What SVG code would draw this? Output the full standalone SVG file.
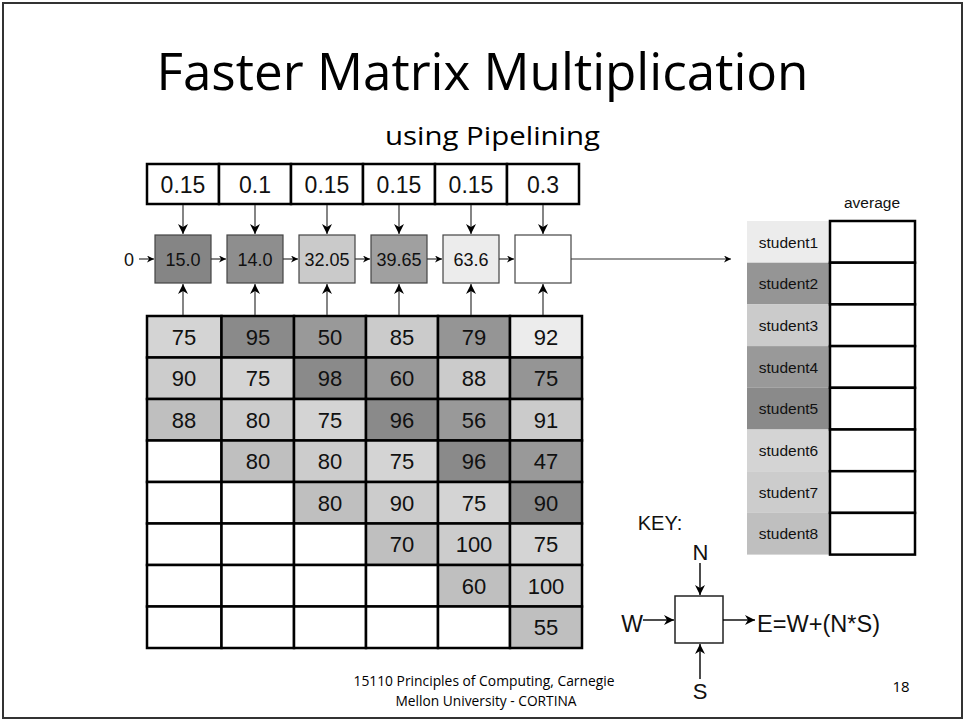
<svg xmlns="http://www.w3.org/2000/svg" width="965" height="721" viewBox="0 0 965 721">
<style>
.t{font-family:"Liberation Sans",Arial,sans-serif;fill:#111;text-anchor:middle}
.c{font-family:"Open Sans","Liberation Sans",sans-serif;fill:#000;text-anchor:middle}
.wb{fill:#fff;stroke:#000;stroke-width:2.5}
.mc{stroke:#000;stroke-width:2.5}
.pb{stroke:#444;stroke-width:1.2}
.ln{stroke:#333;stroke-width:1.2;fill:none}
.kl{stroke:#000;stroke-width:1.4;fill:none}
.s1{fill:#ececec}.s2{fill:#959595}.s3{fill:#cbcbcb}.s4{fill:#999999}
.s5{fill:#8a8a8a}.s6{fill:#d4d4d4}.s7{fill:#cccccc}.s8{fill:#bfbfbf}.s0{fill:#fff}
</style>
<defs>
<marker id="arr" viewBox="0 0 10 10" refX="10" refY="5" markerUnits="userSpaceOnUse" markerWidth="10" markerHeight="11" orient="auto">
<path d="M0,0 L10,5 L0,10 L3,5 z" fill="#000"/>
</marker>
<marker id="arrS" viewBox="0 0 10 10" refX="10" refY="5" markerUnits="userSpaceOnUse" markerWidth="7" markerHeight="7" orient="auto">
<path d="M0,0 L10,5 L0,10 L3,5 z" fill="#000"/>
</marker>
</defs>
<rect x="3" y="3" width="959" height="715" fill="#fff" stroke="#333" stroke-width="2"/>

<g id="title">
<text class="c" x="482.5" y="90" font-size="52" textLength="652" lengthAdjust="spacingAndGlyphs">Faster Matrix Multiplication</text>
<text class="c" x="492.5" y="145" font-size="26" textLength="215" lengthAdjust="spacingAndGlyphs">using Pipelining</text>
</g>

<g id="weights">
<rect class="wb" x="147" y="164" width="72" height="40"/>
<rect class="wb" x="219" y="164" width="72" height="40"/>
<rect class="wb" x="291" y="164" width="72" height="40"/>
<rect class="wb" x="363" y="164" width="72" height="40"/>
<rect class="wb" x="435" y="164" width="72" height="40"/>
<rect class="wb" x="507" y="164" width="72" height="40"/>
<g font-size="23">
<text class="t" x="183" y="193">0.15</text>
<text class="t" x="255" y="193">0.1</text>
<text class="t" x="327" y="193">0.15</text>
<text class="t" x="399" y="193">0.15</text>
<text class="t" x="471" y="193">0.15</text>
<text class="t" x="543" y="193">0.3</text>
</g>
</g>

<g id="processors" font-size="18">
<g id="p1"><rect class="pb" x="155" y="235" width="56" height="48" fill="#858585"/><text class="t" x="183" y="266">15.0</text></g>
<g id="p2"><rect class="pb" x="227" y="235" width="56" height="48" fill="#8e8e8e"/><text class="t" x="255" y="266">14.0</text></g>
<g id="p3"><rect class="pb" x="299" y="235" width="56" height="48" fill="#cacaca"/><text class="t" x="327" y="266">32.05</text></g>
<g id="p4"><rect class="pb" x="371" y="235" width="56" height="48" fill="#a0a0a0"/><text class="t" x="399" y="266">39.65</text></g>
<g id="p5"><rect class="pb" x="443" y="235" width="56" height="48" fill="#ececec"/><text class="t" x="471" y="266">63.6</text></g>
<g id="p6"><rect class="pb" x="515" y="235" width="56" height="48" fill="#fff"/></g>
<text class="t" x="129" y="266">0</text>
</g>

<g id="matrix" font-size="22">
<rect class="mc s6" x="147" y="316" width="74.5" height="41.5"/><rect class="mc s5" x="221.5" y="316" width="72.5" height="41.5"/><rect class="mc s4" x="294" y="316" width="72" height="41.5"/><rect class="mc s3" x="366" y="316" width="72" height="41.5"/><rect class="mc s2" x="438" y="316" width="72" height="41.5"/><rect class="mc s1" x="510" y="316" width="72" height="41.5"/>
<rect class="mc s7" x="147" y="357.5" width="74.5" height="41.5"/><rect class="mc s6" x="221.5" y="357.5" width="72.5" height="41.5"/><rect class="mc s5" x="294" y="357.5" width="72" height="41.5"/><rect class="mc s4" x="366" y="357.5" width="72" height="41.5"/><rect class="mc s3" x="438" y="357.5" width="72" height="41.5"/><rect class="mc s2" x="510" y="357.5" width="72" height="41.5"/>
<rect class="mc s8" x="147" y="399" width="74.5" height="41.5"/><rect class="mc s7" x="221.5" y="399" width="72.5" height="41.5"/><rect class="mc s6" x="294" y="399" width="72" height="41.5"/><rect class="mc s5" x="366" y="399" width="72" height="41.5"/><rect class="mc s4" x="438" y="399" width="72" height="41.5"/><rect class="mc s3" x="510" y="399" width="72" height="41.5"/>
<rect class="mc s0" x="147" y="440.5" width="74.5" height="41.5"/><rect class="mc s8" x="221.5" y="440.5" width="72.5" height="41.5"/><rect class="mc s7" x="294" y="440.5" width="72" height="41.5"/><rect class="mc s6" x="366" y="440.5" width="72" height="41.5"/><rect class="mc s5" x="438" y="440.5" width="72" height="41.5"/><rect class="mc s4" x="510" y="440.5" width="72" height="41.5"/>
<rect class="mc s0" x="147" y="482" width="74.5" height="41.5"/><rect class="mc s0" x="221.5" y="482" width="72.5" height="41.5"/><rect class="mc s8" x="294" y="482" width="72" height="41.5"/><rect class="mc s7" x="366" y="482" width="72" height="41.5"/><rect class="mc s6" x="438" y="482" width="72" height="41.5"/><rect class="mc s5" x="510" y="482" width="72" height="41.5"/>
<rect class="mc s0" x="147" y="523.5" width="74.5" height="41.5"/><rect class="mc s0" x="221.5" y="523.5" width="72.5" height="41.5"/><rect class="mc s0" x="294" y="523.5" width="72" height="41.5"/><rect class="mc s8" x="366" y="523.5" width="72" height="41.5"/><rect class="mc s7" x="438" y="523.5" width="72" height="41.5"/><rect class="mc s6" x="510" y="523.5" width="72" height="41.5"/>
<rect class="mc s0" x="147" y="565" width="74.5" height="41.5"/><rect class="mc s0" x="221.5" y="565" width="72.5" height="41.5"/><rect class="mc s0" x="294" y="565" width="72" height="41.5"/><rect class="mc s0" x="366" y="565" width="72" height="41.5"/><rect class="mc s8" x="438" y="565" width="72" height="41.5"/><rect class="mc s7" x="510" y="565" width="72" height="41.5"/>
<rect class="mc s0" x="147" y="606.5" width="74.5" height="41.5"/><rect class="mc s0" x="221.5" y="606.5" width="72.5" height="41.5"/><rect class="mc s0" x="294" y="606.5" width="72" height="41.5"/><rect class="mc s0" x="366" y="606.5" width="72" height="41.5"/><rect class="mc s0" x="438" y="606.5" width="72" height="41.5"/><rect class="mc s8" x="510" y="606.5" width="72" height="41.5"/>

<text class="t" x="184" y="344.5">75</text><text class="t" x="258" y="344.5">95</text><text class="t" x="330" y="344.5">50</text><text class="t" x="402" y="344.5">85</text><text class="t" x="474" y="344.5">79</text><text class="t" x="546" y="344.5">92</text>
<text class="t" x="184" y="386">90</text><text class="t" x="258" y="386">75</text><text class="t" x="330" y="386">98</text><text class="t" x="402" y="386">60</text><text class="t" x="474" y="386">88</text><text class="t" x="546" y="386">75</text>
<text class="t" x="184" y="427.5">88</text><text class="t" x="258" y="427.5">80</text><text class="t" x="330" y="427.5">75</text><text class="t" x="402" y="427.5">96</text><text class="t" x="474" y="427.5">56</text><text class="t" x="546" y="427.5">91</text>
<text class="t" x="258" y="469">80</text><text class="t" x="330" y="469">80</text><text class="t" x="402" y="469">75</text><text class="t" x="474" y="469">96</text><text class="t" x="546" y="469">47</text>
<text class="t" x="330" y="510.5">80</text><text class="t" x="402" y="510.5">90</text><text class="t" x="474" y="510.5">75</text><text class="t" x="546" y="510.5">90</text>
<text class="t" x="402" y="552">70</text><text class="t" x="474" y="552">100</text><text class="t" x="546" y="552">75</text>
<text class="t" x="474" y="593.5">60</text><text class="t" x="546" y="593.5">100</text>
<text class="t" x="546" y="635">55</text>
</g>

<g id="students" font-size="15.5">
<text class="t" x="872" y="208">average</text>
<rect class="s1" x="747" y="221" width="83" height="41.7"/>
<rect class="s2" x="747" y="262.7" width="83" height="41.7"/>
<rect class="s3" x="747" y="304.4" width="83" height="41.7"/>
<rect class="s4" x="747" y="346.1" width="83" height="41.7"/>
<rect class="s5" x="747" y="387.8" width="83" height="41.7"/>
<rect class="s6" x="747" y="429.5" width="83" height="41.7"/>
<rect class="s7" x="747" y="471.2" width="83" height="41.7"/>
<rect class="s8" x="747" y="512.9" width="83" height="41.7"/>
<rect class="wb" x="830" y="221" width="85" height="41.7"/>
<rect class="wb" x="830" y="262.7" width="85" height="41.7"/>
<rect class="wb" x="830" y="304.4" width="85" height="41.7"/>
<rect class="wb" x="830" y="346.1" width="85" height="41.7"/>
<rect class="wb" x="830" y="387.8" width="85" height="41.7"/>
<rect class="wb" x="830" y="429.5" width="85" height="41.7"/>
<rect class="wb" x="830" y="471.2" width="85" height="41.7"/>
<rect class="wb" x="830" y="512.9" width="85" height="41.7"/>
<text class="t" x="788.5" y="247.5">student1</text>
<text class="t" x="788.5" y="289.2">student2</text>
<text class="t" x="788.5" y="330.9">student3</text>
<text class="t" x="788.5" y="372.6">student4</text>
<text class="t" x="788.5" y="414.3">student5</text>
<text class="t" x="788.5" y="456">student6</text>
<text class="t" x="788.5" y="497.7">student7</text>
<text class="t" x="788.5" y="539.4">student8</text>
</g>

<g id="connectors">
<g class="ln" marker-end="url(#arr)">
<line x1="183" y1="205" x2="183" y2="234"/>
<line x1="255" y1="205" x2="255" y2="234"/>
<line x1="327" y1="205" x2="327" y2="234"/>
<line x1="399" y1="205" x2="399" y2="234"/>
<line x1="471" y1="205" x2="471" y2="234"/>
<line x1="543" y1="205" x2="543" y2="234"/>
<line x1="183" y1="315" x2="183" y2="284"/>
<line x1="255" y1="315" x2="255" y2="284"/>
<line x1="327" y1="315" x2="327" y2="284"/>
<line x1="399" y1="315" x2="399" y2="284"/>
<line x1="471" y1="315" x2="471" y2="284"/>
<line x1="543" y1="315" x2="543" y2="284"/>
</g>
<g class="ln" marker-end="url(#arrS)">
<line x1="139" y1="259" x2="154" y2="259"/>
<line x1="211" y1="259" x2="226" y2="259"/>
<line x1="283" y1="259" x2="298" y2="259"/>
<line x1="355" y1="259" x2="370" y2="259"/>
<line x1="427" y1="259" x2="442" y2="259"/>
<line x1="499" y1="259" x2="514" y2="259"/>
<line x1="571" y1="259" x2="731" y2="259"/>
</g>
</g>

<g id="key">
<text class="t" x="660" y="530" font-size="20">KEY:</text>
<rect x="675" y="596" width="48" height="47" fill="#fff" stroke="#222" stroke-width="1.5"/>
<g class="kl" marker-end="url(#arr)">
<line x1="700" y1="563" x2="700" y2="595"/>
<line x1="700" y1="679" x2="700" y2="644"/>
<line x1="643" y1="620" x2="674" y2="620"/>
<line x1="723" y1="620" x2="755" y2="620"/>
</g>
<text class="t" x="700.5" y="560" font-size="22">N</text>
<text class="t" x="700" y="699" font-size="22">S</text>
<text class="t" x="632" y="631.5" font-size="23">W</text>
<text class="t" x="818.5" y="631.5" font-size="23.5" textLength="123" lengthAdjust="spacingAndGlyphs">E=W+(N*S)</text>
</g>

<g id="footer">
<text class="c" x="484" y="686" font-size="14" textLength="261" lengthAdjust="spacingAndGlyphs">15110 Principles of Computing, Carnegie</text>
<text class="c" x="486" y="706" font-size="14" textLength="181" lengthAdjust="spacingAndGlyphs">Mellon University - CORTINA</text>
<text class="c" x="901" y="692" font-size="15">18</text>
</g>
</svg>
